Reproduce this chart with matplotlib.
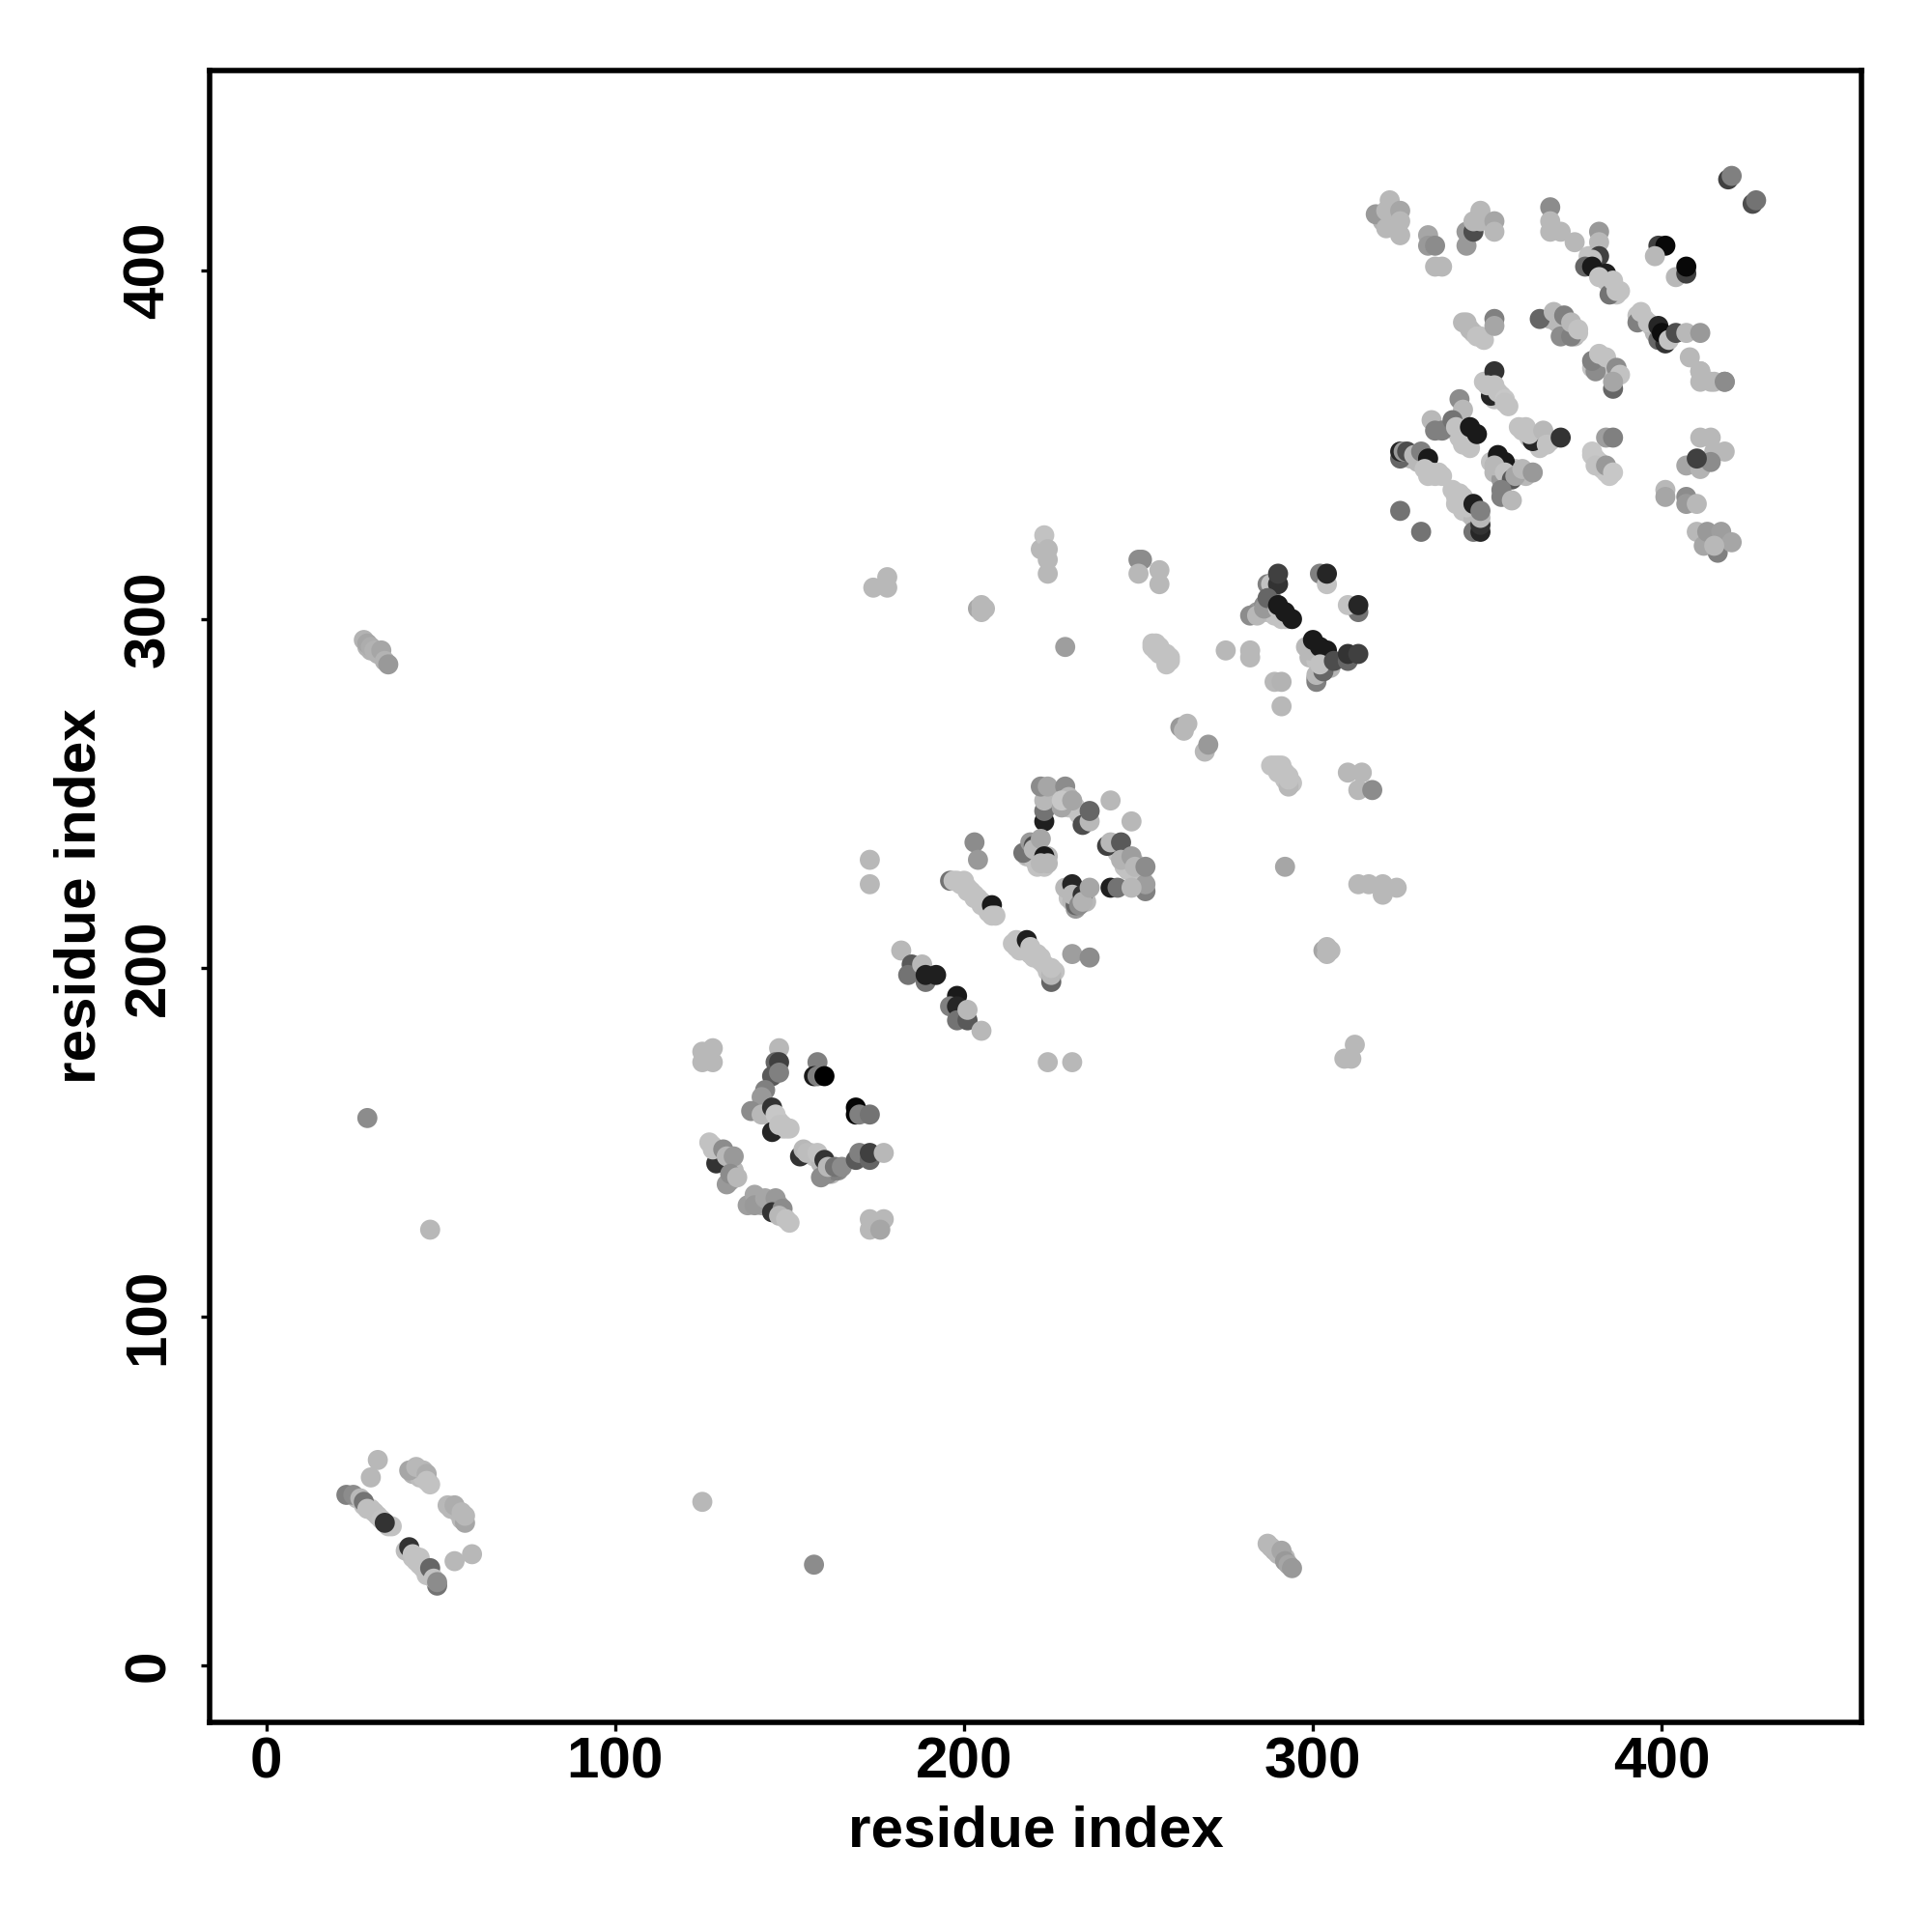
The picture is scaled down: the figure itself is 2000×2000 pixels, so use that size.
import numpy as np
import matplotlib
matplotlib.use('Agg')
import matplotlib.pyplot as plt

# each contact is (residue x, residue y, gray level)
# the light runs sit underneath, the rest is drawn over them
light_runs = [
    (26, 48, .74), (28, 46, .76), (30, 45, .76), (32, 43, .76), (36, 40, .76),
    (42, 31, .76), (44, 29, .76), (44, 31, .76), (46, 27, .76),
    (42, 55, .7), (44, 56, .74), (44, 54, .74), (45, 54, .76), (47, 52, .76),
    (53, 45, .72), (55, 44, .72), (56, 42, .72),
    (289, 33, .7), (292, 31, .72), (29, 292, .7), (30, 291, .7), (32, 290, .7),
    (144, 158, .72), (145, 157, .76), (147, 156, .76), (148, 154, .76), (150, 154, .76),
    (128, 149, .76), (129, 148, .76), (130, 147, .74), (131, 146, .7), (133, 144, .6), (134, 142, .72), (133, 139, .65),
    (141, 134, .65), (142, 132, .65), (144, 133, .65), (147, 132, .65), (146, 130, .72), (148, 129, .76), (150, 127, .76),
    (156, 147, .76), (157, 146, .76), (159, 144, .72), (162, 141, .72), (161, 141, .55), (164, 142, .55), (163, 142, .5),
    (198, 225, .76), (199, 224, .76), (200, 224, .76), (201, 222, .76), (202, 222, .76), (203, 220, .76),
    (204, 220, .76), (205, 218, .76), (206, 218, .76), (207, 216, .76), (208, 216, .76),
    (214, 207, .76), (215, 206, .76), (216, 205, .76), (217, 206, .76), (218, 205, .76), (219, 204, .76),
    (220, 203, .76), (221, 204, .76), (222, 202, .76), (223, 201, .76), (224, 199, .76), (225, 198, .76), (226, 199, .76),
    (225, 248, .76), (226, 250, .76), (227, 247, .76), (229, 248, .72), (230, 246, .76), (232, 246, .76), (233, 244, .76),
    (244, 233, .76), (246, 231, .76), (246, 229, .76), (247, 228, .76), (249, 230, .76), (250, 226, .76), (250, 224, .76), (251, 226, .76),
    (218, 232, .72), (219, 233, .72), (220, 231, .76), (221, 229, .76), (223, 229, .76), (224, 232, .72),
    (230, 220, .76), (232, 222, .76), (233, 220, .76), (235, 219, .72), (232, 217, .6), (231, 219, .72),
    (254, 292, .76), (255, 293, .76), (255, 291, .76), (256, 290, .76), (258, 290, .76), (259, 288, .76), (258, 287, .76),
    (288, 258, .76), (290, 258, .76), (290, 256, .76), (291, 256, .76), (292, 254, .76), (293, 255, .76), (294, 253, .76), (293, 252, .72),
    (284, 302, .6), (286, 304, .55), (288, 306, .5), (287, 302, .72), (289, 301, .76), (291, 300, .76), (292, 300, .76),
    (298, 292, .72), (299, 289, .72), (301, 288, .76), (303, 286, .72), (301, 283, .5), (304, 287, .55), (305, 286, .7),
    (328, 346, .72), (330, 345, .72), (332, 344, .72), (333, 341, .76), (335, 341, .76), (337, 341, .76),
    (340, 337, .76), (342, 336, .76), (341, 333, .76), (343, 331, .76), (345, 330, .76), (346, 329, .72), (347, 328, .72),
    (341, 354, .72), (342, 352, .76), (343, 350, .76), (345, 349, .76), (340, 356, .6),
    (349, 368, .76), (351, 366, .76), (352, 363, .76), (354, 364, .76), (356, 361, .76),
    (359, 355, .76), (360, 354, .76), (362, 352, .76), (364, 351, .76), (365, 349, .76), (367, 351, .76), (368, 351, .76),
    (351, 345, .76), (352, 342, .72), (354, 340, .6), (356, 342, .76), (358, 343, .76), (361, 341, .72),
    (380, 347, .78), (381, 346, .78), (382, 345, .78), (383, 343, .78), (384, 342, .78), (385, 341, .78),
    (379, 404, .76), (381, 402, .76), (383, 399, .76), (384, 397, .76), (385, 396, .76), (386, 395, .76), (387, 393, .76), (388, 394, .76),
    (380, 372, .76), (382, 373, .76), (383, 374, .76), (385, 372, .76), (386, 370, .76),
    (393, 387, .76), (395, 386, .76), (397, 384, .76), (398, 382, .72), (400, 380, .76), (402, 381, .76), (399, 380, .4),
    (368, 386, .72), (370, 385, .72), (372, 384, .72), (373, 383, .72), (375, 381, .72), (376, 382, .76),
    (344, 385, .72), (346, 382, .76), (349, 380, .76),
    (322, 415, .72), (323, 417, .72), (324, 412, .72), (320, 414, .7),
]
bottom_left = [
    (32, 59, .72), (30, 54, .72),
    (23, 49, .5), (25, 49, .55), (27, 48, .72), (28, 47, .45), (29, 45, .75), (31, 44, .75),
    (33, 42, .76), (35, 40, .76), (34, 41, .2),
    (40, 33, .74), (41, 34, .2), (42, 32, .76), (43, 30, .76), (45, 28, .76), (46, 26, .76),
    (47, 28, .4), (49, 23, .45), (48, 25, .76), (49, 24, .55),
    (41, 56, .65), (43, 57, .72), (45, 56, .72), (46, 55, .68), (46, 53, .76),
    (57, 41, .65), (52, 46, .72), (54, 46, .68), (56, 44, .72), (57, 43, .72),
    (54, 30, .72), (59, 32, .72),
]
off_diagonal = [
    (125, 47, .72), (157, 29, .55),
    (287, 35, .72), (288, 34, .72), (290, 32, .72), (291, 33, .65), (292, 30, .6), (293, 29, .65), (294, 28, .6),
    (28, 294, .7), (29, 293, .65), (30, 292, .68), (31, 291, .7), (33, 291, .65), (34, 288, .7), (35, 287, .6),
    (29, 157, .55), (47, 125, .72),
]
cluster_150 = [
    (125, 176, .72), (128, 177, .72), (125, 173, .72), (128, 173, .72),
    (147, 177, .72), (146, 173, .4), (147, 173, .25), (145, 169, .35), (147, 170, .5),
    (143, 165, .5), (142, 163, .6), (139, 159, .55), (145, 153, .15), (142, 158, .72),
    (145, 160, .2), (146, 158, .78), (147, 155, .76), (148, 155, .76), (149, 154, .76),
    (158, 173, .5), (157, 169, .1), (158, 169, .5), (160, 169, .0),
    (169, 160, .02), (169, 158, .02), (170, 158, .5), (173, 158, .45),
    (129, 144, .2), (127, 150, .76), (128, 148, .76), (131, 148, .55), (132, 146, .72), (134, 146, .6),
    (132, 138, .6), (133, 141, .55), (135, 140, .72),
    (138, 132, .62), (140, 135, .65), (140, 132, .6), (143, 134, .65), (146, 134, .6), (145, 130, .2),
    (148, 131, .55), (147, 129, .72), (149, 128, .76),
    (153, 146, .2), (154, 148, .72), (155, 147, .74), (158, 147, .76), (160, 145, .2), (159, 140, .55),
    (161, 143, .72), (163, 143, .45), (165, 143, .55),
    (169, 145, .35), (170, 147, .5), (173, 145, .4), (173, 147, .25), (177, 147, .72),
    (173, 128, .72), (177, 128, .72), (173, 125, .72), (176, 125, .65),
]
cluster_220 = [
    (242, 248, .72), (248, 242, .72), (203, 236, .55), (204, 231, .6),
    (223, 242, .12), (223, 245, .45), (223, 248, .72), (222, 252, .55), (224, 252, .65),
    (229, 252, .55), (228, 246, .65), (230, 249, .72), (228, 248, .78), (231, 248, .65),
    (234, 241, .3), (236, 242, .72), (236, 245, .4),
    (241, 235, .25), (242, 236, .72), (245, 236, .35), (245, 231, .7), (248, 232, .62), (249, 229, .72),
    (252, 222, .5), (252, 224, .62), (252, 229, .55), (242, 223, .12), (244, 223, .45), (248, 223, .72),
    (217, 233, .45), (219, 236, .6), (220, 235, .3), (220, 234, .72), (222, 237, .65), (223, 232, .1),
    (222, 230, .72), (224, 230, .72),
    (232, 218, .4), (229, 223, .72), (231, 224, .15), (231, 221, .72), (233, 218, .55), (234, 221, .2),
    (234, 219, .7), (236, 223, .65),
    (196, 225, .45), (197, 225, .76), (200, 225, .76), (201, 223, .76), (203, 221, .76), (205, 219, .76),
    (208, 218, .1), (208, 215, .76), (209, 215, .76),
    (215, 208, .76), (216, 207, .76), (218, 208, .12), (219, 206, .76), (222, 203, .76), (225, 196, .4),
    (225, 198, .72), (225, 200, .76),
    (231, 204, .62), (236, 203, .55),
    (182, 205, .72), (185, 201, .35), (184, 198, .45), (189, 196, .45), (188, 201, .72), (189, 198, .12), (192, 198, .12),
    (198, 192, .1), (196, 189, .5), (198, 189, .15), (198, 185, .45), (201, 185, .35), (201, 188, .72), (205, 182, .72),
    (224, 173, .72), (231, 173, .72),
    (173, 231, .72), (173, 224, .72),
]
cluster_270 = [
    (174, 309, .72), (178, 312, .72), (178, 309, .72),
    (204, 303, .65), (205, 304, .72), (206, 303, .72), (205, 302, .72),
    (222, 320, .72), (223, 324, .76), (224, 320, .72), (224, 317, .72), (224, 313, .72),
    (229, 292, .62),
    (250, 317, .55), (251, 317, .55), (250, 313, .72), (256, 314, .72), (256, 310, .72),
    (254, 293, .76), (256, 292, .76), (257, 290, .76), (258, 288, .76), (259, 289, .76),
    (262, 269, .6), (264, 270, .72), (263, 268, .72), (269, 262, .72), (270, 264, .6),
    (275, 291, .72), (282, 291, .72), (282, 289, .72),
    (289, 282, .72), (291, 282, .7), (291, 275, .72),
    (289, 258, .76), (291, 258, .76), (292, 256, .76), (293, 254, .76), (292, 229, .65),
    (310, 256, .72), (314, 256, .72), (313, 251, .72), (317, 251, .55),
    (313, 224, .72), (316, 224, .72), (320, 224, .72), (320, 221, .72), (324, 223, .72),
    (303, 205, .65), (304, 206, .72), (305, 205, .72), (304, 204, .72),
    (309, 174, .72), (311, 174, .72), (312, 178, .72),
]
diagonal_300 = [
    (287, 310, .5), (288, 310, .76), (290, 310, .2), (290, 313, .25), (282, 301, .55), (284, 301, .72),
    (286, 303, .6), (287, 306, .4), (290, 303, .76), (293, 300, .76), (290, 304, .1), (292, 302, .1), (294, 300, .1),
    (302, 313, .5), (304, 310, .76), (304, 313, .15), (313, 302, .45), (310, 304, .76), (313, 304, .15),
    (301, 282, .5), (301, 284, .72), (303, 285, .4), (299, 291, .72), (300, 294, .1), (302, 292, .1), (304, 291, .1),
    (302, 287, .76), (306, 288, .3), (310, 288, .4), (310, 290, .2), (313, 290, .25),
]
cluster_345 = [
    (352, 371, .2), (351, 364, .15), (350, 367, .76), (352, 367, .76), (353, 365, .76), (355, 363, .78), (355, 362, .76),
    (342, 363, .55), (343, 360, .72), (334, 357, .72), (335, 354, .5), (337, 354, .5), (340, 357, .45), (341, 355, .76),
    (344, 352, .76), (345, 355, .1), (347, 353, .1),
    (363, 351, .15), (361, 355, .76), (362, 353, .76), (366, 354, .72), (367, 350, .76), (371, 352, .2),
    (384, 352, .62), (386, 352, .5), (380, 348, .78), (381, 344, .76), (384, 344, .6), (386, 342, .78),
    (325, 346, .4), (325, 348, .15), (326, 348, .6), (327, 348, .3), (329, 347, .72), (331, 348, .5),
    (333, 346, .1), (332, 343, .76), (334, 342, .76), (336, 342, .76),
    (325, 331, .45), (331, 325, .45),
    (353, 347, .1), (355, 345, .1), (352, 344, .72), (355, 342, .76), (357, 340, .35), (358, 341, .65), (360, 343, .72), (363, 342, .6),
    (354, 337, .5), (354, 335, .5), (357, 334, .72),
    (346, 325, .45), (348, 325, .15), (348, 327, .2), (348, 329, .72), (341, 335, .76), (343, 335, .76),
    (344, 332, .76), (346, 333, .12), (348, 331, .5),
]
right_side = [
    (411, 352, .72), (414, 352, .72), (418, 348, .72), (415, 348, .72), (407, 344, .65), (411, 343, .7),
    (414, 345, .55), (410, 346, .25),
    (401, 337, .72), (401, 335, .65), (407, 335, .55), (407, 333, .6), (410, 333, .72),
    (416, 319, .5), (410, 325, .72), (412, 321, .65), (413, 325, .6), (417, 325, .62), (420, 322, .65), (415, 321, .72),
    (411, 371, .72), (411, 368, .72), (414, 368, .72), (418, 368, .55),
]
upper_cluster = [
    (381, 371, .55), (386, 366, .4), (380, 374, .5), (382, 376, .76), (384, 375, .76), (387, 372, .55), (388, 370, .76), (386, 368, .65),
    (419, 426, .25), (420, 427, .5), (426, 419, .3), (427, 420, .45),
    (368, 418, .55), (368, 414, .72), (368, 411, .72), (371, 411, .72), (375, 408, .72),
    (382, 411, .6), (382, 408, .72), (382, 404, .25), (380, 403, .76), (378, 401, .4), (380, 401, .1), (384, 399, .12),
    (382, 398, .76), (385, 393, .45), (386, 397, .76), (387, 394, .76),
    (399, 407, .25), (401, 407, .03), (398, 404, .72), (404, 398, .72), (407, 399, .25), (407, 401, .03),
    (371, 381, .55), (374, 381, .5), (365, 386, .4), (369, 388, .72), (372, 387, .5), (374, 385, .72), (376, 383, .76),
    (393, 385, .5), (394, 388, .76), (396, 385, .76), (399, 384, .15), (401, 379, .2), (400, 382, .05), (402, 380, .76),
    (404, 382, .3), (407, 382, .72), (411, 382, .6),
    (408, 375, .72), (411, 371, .72), (415, 368, .72), (418, 368, .55),
    (318, 416, .6), (322, 420, .72), (321, 417, .72), (321, 412, .72), (325, 410, .72), (325, 417, .65), (325, 414, .72),
    (333, 410, .65), (333, 407, .6), (335, 407, .55), (335, 401, .72), (337, 401, .72),
    (344, 407, .6), (344, 411, .6), (346, 411, .3), (346, 414, .72), (348, 417, .72), (348, 414, .72), (352, 414, .65), (352, 411, .72),
    (343, 385, .72), (345, 383, .72), (347, 381, .76), (348, 381, .76), (352, 386, .5), (352, 384, .65),
]
tick_values = [0, 100, 200, 300, 400]
axis_label = 'residue index'

contacts = light_runs + bottom_left + off_diagonal + cluster_150 + cluster_220 + cluster_270 + diagonal_300 + cluster_345 + right_side + upper_cluster
contacts = np.array(contacts)

plt.rcParams['font.family'] = ['Liberation Sans', 'DejaVu Sans']
plt.rcParams['font.weight'] = 'bold'

fig = plt.figure(figsize=(10, 10), dpi=200)
ax = fig.add_axes([217 / 2000, 1 - 1783 / 2000, 1710 / 2000, 1710 / 2000])

ax.scatter(contacts[:, 0], contacts[:, 1], c=[str(g) for g in contacts[:, 2]], s=56, linewidths=0, zorder=3)

ax.set_xlim(-16.2, 457.2)
ax.set_ylim(-16.2, 457.2)
ax.set_xticks(tick_values)
ax.set_yticks(tick_values)
ax.tick_params(axis='both', length=3.3, width=1.2, labelsize=21.7)
ax.tick_params(axis='x', pad=2)
ax.tick_params(axis='y', pad=9.3)
plt.setp(ax.get_yticklabels(), rotation=90, va='center')
ax.set_xlabel(axis_label, fontsize=21.7, fontweight='bold', labelpad=5.5)
ax.set_ylabel(axis_label, fontsize=21.7, fontweight='bold', labelpad=6)
for spine in ax.spines.values():
    spine.set_linewidth(2.0)

fig.savefig('out.png', dpi=200, facecolor='white')
